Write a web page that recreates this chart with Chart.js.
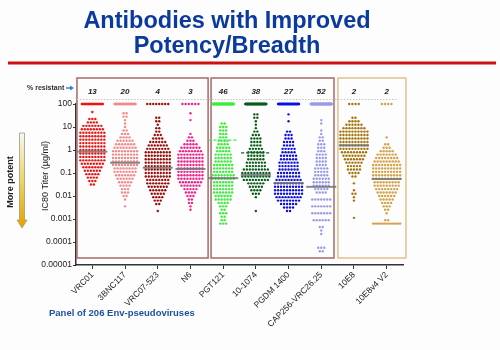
<!DOCTYPE html>
<html>
<head>
<meta charset="utf-8">
<script src="https://cdn.jsdelivr.net/npm/chart.js@4.4.0/dist/chart.umd.min.js"></script>
<style>
  html, body { margin: 0; padding: 0; background: #fcfdfc; }
</style>
</head>
<body>
<canvas id="chart-titer" width="500" height="350"></canvas>
<script>
// antibodies on the x axis
const categories = ['VRC01', '3BNC117', 'VRC07-523', 'N6', 'PGT121', '10-1074', 'PGDM 1400', 'CAP256-VRC26.25', '10E8', '10E8v4 V2'];
const colors = ['#ee1515', '#f28a8a', '#980c0c', '#f5208a', '#3aee3a', '#0c5c1c', '#1010e0', '#9a9ae6', '#a6740e', '#d4a24a'];
const resistantPct = [13, 20, 4, 3, 46, 38, 27, 52, 2, 2];
const panelSize = 206;
const medians = [0.85, 0.28, 0.17, 0.15, 0.06, 0.083, 0.037, 0.025, 1.6, 0.055];
const meanLines = [null, null, null, null, 2.7, 0.75, null, null, null, null];

// y ticks
const yTickValues = [100, 10, 1, 0.1, 0.01, 0.001, 0.0001, 0.00001];
const yTickLabels = ['100', '10', '1', '0.1', '0.01', '0.001', '0.0001', '0.00001'];

// IC80 counts per 0.15 log10 bin, going down from binTop (log10 of first bin)
const binStep = 0.15;
const binTop = [1.65, 1.6, 1.4, 1.6, 1.15, 1.55, 1.55, 1.3, 1.4, 0.55];
const vrc01Counts = [1,0,3,4,7,8,9,9,9,9,9,9,9,9,9,8,7,6,5,4,3,2];
const bnc117Counts = [2,2,1,1,1,2,3,4,6,7,8,9,9,9,9,9,8,8,7,6,5,4,3,3,2,1,0,1];
const vrc07Counts = [2,2,1,2,2,3,4,6,7,8,9,9,9,9,9,9,9,9,8,8,7,6,5,4,3,2,0,1];
const n6Counts = [1,0,1,0,0,0,1,2,3,5,7,8,9,9,9,9,9,9,9,9,8,7,5,4,3,2,2,1,1];
const pgt121Counts = [2,3,3,3,3,4,4,5,5,6,6,6,7,7,7,8,8,7,7,7,7,6,6,4,3,2,3,2,2,3];
const n1074Counts = [2,2,1,1,1,2,3,4,4,4,5,6,6,6,7,7,9,10,10,9,6,5,4,3,1,0,0,0,1];
const pgdmCounts = [1,0,1,0,0,2,3,3,4,4,5,5,6,6,7,7,7,8,8,9,10,10,10,10,9,8,6,4,2];
const cap256Counts = [1,1,0,1,1,2,2,3,3,3,4,4,4,4,5,5,5,6,6,6,5,4,0,7,0,7,0,7,0,6,0,2,1,1,0,0,0,3,2];
const e10e8Counts = [2,4,6,8,10,10,10,10,10,10,9,8,7,6,5,5,4,2,0,1,0,1,2,1,1,0,0,0,0,1];
const e10e8v4Counts = [1,0,2,3,5,7,8,9,10,10,10,10,10,9,9,8,7,6,5,4,3,2,1,0,2,15];
const binCounts = [vrc01Counts, bnc117Counts, vrc07Counts, n6Counts, pgt121Counts, n1074Counts, pgdmCounts, cap256Counts, e10e8Counts, e10e8v4Counts];

const pxPerCat = 32.7;

// spread n dots side by side, returns offsets in category units
function rowOf(n, gap, maxWidth) {
    const out = [];
    if (n <= 0) return out;
    const sp = n > 1 ? Math.min(gap, maxWidth / (n - 1)) : 0;
    for (let j = 0; j < n; j++) out.push(((j - (n - 1) / 2) * sp) / pxPerCat);
    return out;
}

function buildPoints(i) {
    const pts = [];
    binCounts[i].forEach((n, k) => {
        const v = Math.pow(10, binTop[i] - binStep * k);
        rowOf(n, 3.0, 27).forEach(dx => pts.push({ x: i + dx, y: v }));
    });
    const nRes = Math.round(resistantPct[i] * panelSize / 100);
    rowOf(nRes, 3.2, 21).forEach(dx => pts.push({ x: i + dx, y: 100 }));
    return pts;
}

const datasets = [];
datasets.push({
    label: 'median',
    data: medians.map((m, i) => ({ x: i, y: m })),
    pointStyle: 'line',
    pointRadius: 15,
    borderWidth: 2,
    borderColor: 'rgba(115,115,115,0.85)',
    order: 0,
    clip: false
});
meanLines.forEach((m, i) => {
    if (m === null) return;
    datasets.push({
        type: 'line',
        label: 'mean ' + categories[i],
        data: [{ x: i - 0.45, y: m }, { x: i + 0.45, y: m }],
        borderColor: colors[i],
        borderWidth: 1.2,
        borderDash: [3, 2],
        pointRadius: 0,
        order: 0
    });
});
categories.forEach((c, i) => {
    datasets.push({
        label: c,
        data: buildPoints(i),
        backgroundColor: colors[i],
        borderWidth: 0,
        pointRadius: 1.2,
        order: 1,
        clip: false
    });
});

const decorations = {
    id: 'decorations',
    beforeDraw(chart) {
        const ctx = chart.ctx;
        ctx.save();
        ctx.fillStyle = '#fcfdfc';
        ctx.fillRect(0, 0, chart.width, chart.height);
        ctx.restore();
    },
    beforeDatasetsDraw(chart) {
        const ctx = chart.ctx;
        const x = chart.scales.x;
        ctx.save();
        // group boxes
        const boxes = [[-0.47, 3.54, '#a86a6a'], [3.63, 7.39, '#a86a6a'], [7.51, 9.59, '#e2c08e']];
        ctx.lineWidth = 1.5;
        boxes.forEach(b => {
            const x0 = x.getPixelForValue(b[0]);
            const x1 = x.getPixelForValue(b[1]);
            ctx.strokeStyle = b[2];
            ctx.strokeRect(x0, 78, x1 - x0, 180);
        });
        // dotted line above 100
        ctx.strokeStyle = '#c4c4c4';
        ctx.lineWidth = 1;
        ctx.setLineDash([1.5, 1.5]);
        ctx.beginPath();
        ctx.moveTo(77, 99.5);
        ctx.lineTo(397, 99.5);
        ctx.stroke();
        ctx.restore();
    },
    afterDraw(chart) {
        const ctx = chart.ctx;
        const x = chart.scales.x;
        ctx.save();
        // title
        ctx.fillStyle = '#0b3a9e';
        ctx.font = 'bold 23.5px "Liberation Sans", Arial, sans-serif';
        ctx.textAlign = 'center';
        ctx.textBaseline = 'alphabetic';
        ctx.fillText('Antibodies with Improved', 227, 28);
        ctx.fillText('Potency/Breadth', 227, 53);
        ctx.fillStyle = '#cc1111';
        ctx.fillRect(8, 61.5, 488, 3);

        // % resistant
        ctx.textBaseline = 'middle';
        ctx.textAlign = 'left';
        ctx.fillStyle = '#333';
        ctx.font = 'bold 7px "Liberation Sans", Arial, sans-serif';
        ctx.fillText('% resistant', 27, 88);
        ctx.strokeStyle = '#3a7ec8';
        ctx.fillStyle = '#3a7ec8';
        ctx.lineWidth = 1.5;
        ctx.beginPath();
        ctx.moveTo(66, 88);
        ctx.lineTo(71, 88);
        ctx.stroke();
        ctx.beginPath();
        ctx.moveTo(70, 85.5);
        ctx.lineTo(74, 88);
        ctx.lineTo(70, 90.5);
        ctx.fill();

        ctx.fillStyle = '#222';
        ctx.textAlign = 'center';
        ctx.font = 'italic bold 8px "Liberation Sans", Arial, sans-serif';
        resistantPct.forEach((p, i) => ctx.fillText(String(p), x.getPixelForValue(i), 92));

        // more potent arrow
        const g = ctx.createLinearGradient(0, 133, 0, 222);
        g.addColorStop(0, '#f6f8ee');
        g.addColorStop(0.5, '#ecd870');
        g.addColorStop(1, '#e8a800');
        ctx.fillStyle = g;
        ctx.strokeStyle = '#9a9a8a';
        ctx.lineWidth = 0.8;
        ctx.beginPath();
        ctx.moveTo(19.5, 133);
        ctx.lineTo(24.5, 133);
        ctx.lineTo(24.5, 220);
        ctx.lineTo(27, 220);
        ctx.lineTo(22, 228);
        ctx.lineTo(17, 220);
        ctx.lineTo(19.5, 220);
        ctx.closePath();
        ctx.fill();
        ctx.stroke();

        ctx.fillStyle = '#222';
        ctx.font = 'bold 9px "Liberation Sans", Arial, sans-serif';
        ctx.translate(11, 182);
        ctx.rotate(-Math.PI / 2);
        ctx.fillText('More potent', 0, 0);
        ctx.setTransform(1, 0, 0, 1, 0, 0);

        ctx.font = '9px "Liberation Sans", Arial, sans-serif';
        ctx.fillStyle = '#222';
        ctx.translate(46, 176);
        ctx.rotate(-Math.PI / 2);
        ctx.fillText('IC80 Titer (\u00b5g/ml)', 0, 0);
        ctx.setTransform(1, 0, 0, 1, 0, 0);

        ctx.textAlign = 'left';
        ctx.fillStyle = '#1f4f9f';
        ctx.font = 'bold 9.5px "Liberation Sans", Arial, sans-serif';
        ctx.fillText('Panel of 206 Env-pseudoviruses', 49, 313);
        ctx.restore();
    }
};

const ctx = document.getElementById('chart-titer').getContext('2d');
const titerChart = new Chart(ctx, {
    type: 'scatter',
    data: { datasets: datasets },
    options: {
        responsive: false,
        animation: false,
        events: [],
        layout: { padding: { top: 104, left: 0, right: 97, bottom: 0 } },
        plugins: {
            legend: { display: false },
            tooltip: { enabled: false }
        },
        scales: {
            x: {
                type: 'linear',
                min: -0.5,
                max: 9.5,
                afterFit: axis => { axis.height = 85; },
                afterBuildTicks: axis => { axis.ticks = categories.map((c, i) => ({ value: i })); },
                grid: { drawOnChartArea: false, drawTicks: true, tickLength: 4, color: '#333' },
                border: { color: '#333', width: 1.5 },
                ticks: {
                    autoSkip: false,
                    minRotation: 45,
                    maxRotation: 45,
                    padding: 1,
                    color: '#222',
                    font: { family: '"Liberation Sans", Arial, sans-serif', size: 8.5 },
                    callback: v => categories[v]
                }
            },
            y: {
                type: 'logarithmic',
                min: 0.00001,
                max: 100,
                afterFit: axis => { axis.width = 76; },
                afterBuildTicks: axis => { axis.ticks = yTickValues.map(v => ({ value: v })); },
                grid: { drawOnChartArea: false, drawTicks: true, tickLength: 3, color: '#333' },
                border: { color: '#333', width: 1.5 },
                ticks: {
                    padding: 1,
                    color: '#222',
                    font: { family: '"Liberation Sans", Arial, sans-serif', size: 8.5 },
                    callback: v => yTickLabels[yTickValues.indexOf(v)]
                }
            }
        }
    },
    plugins: [decorations]
});
</script>
</body>
</html>
